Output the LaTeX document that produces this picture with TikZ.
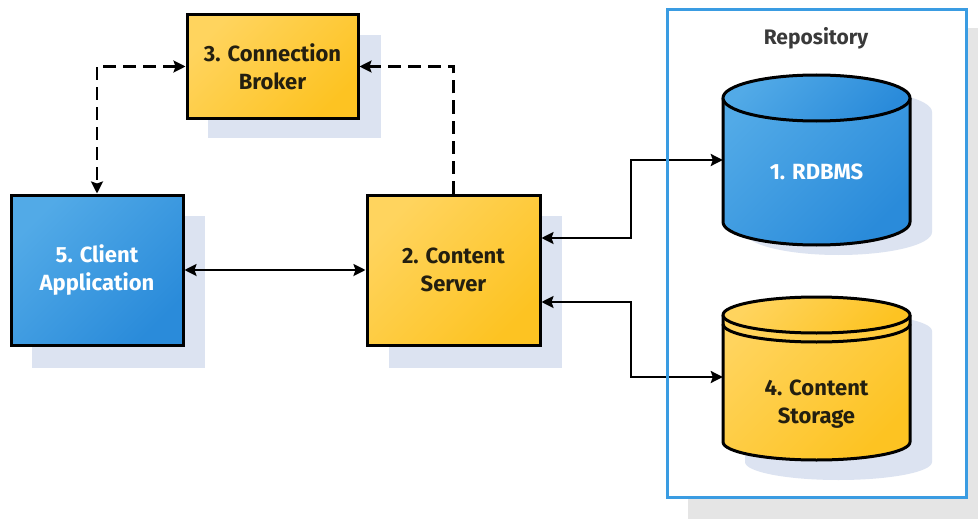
\documentclass[tikz,border=0pt]{standalone}
\usepackage{fontspec}
\setmainfont{Fira Sans}
\usetikzlibrary{arrows.meta,calc}

\definecolor{blueA}{HTML}{52AAE7}
\definecolor{blueB}{HTML}{2A8BDA}
\definecolor{yellowA}{HTML}{FFD45E}
\definecolor{yellowB}{HTML}{FDC322}
\definecolor{shadowc}{HTML}{DCE3F1}
\definecolor{repoblue}{HTML}{3A9CE2}
\definecolor{grayshadow}{HTML}{E5E5E5}
\definecolor{darktext}{HTML}{231F10}
\definecolor{repotext}{HTML}{3A3A3A}

\tikzset{
  x=1pt, y=-1pt,
  labelfont/.style={font=\fontsize{22}{28}\selectfont\bfseries, align=center},
  boxshadow/.style={fill=shadowc, draw=none},
  bluebox/.style={draw=black, line width=3pt, top color=blueA, bottom color=blueB,
    shading angle=45, labelfont, text=white, inner sep=0pt},
  yellowbox/.style={draw=black, line width=3pt, top color=yellowA, bottom color=yellowB,
    shading angle=45, labelfont, text=darktext, inner sep=0pt},
  cylfill blue/.style={top color=blueA, bottom color=blueB, shading angle=45},
  cylfill yellow/.style={top color=yellowA, bottom color=yellowB, shading angle=45},
  cyledge/.style={draw=black, line width=3pt, line join=round},
  anchorbox/.style={draw=none, fill=none, inner sep=0pt, minimum width=187pt},
  link/.style={draw=black, line width=2.3pt,
    {Stealth[length=12pt,width=12pt,inset=2pt]}-{Stealth[length=12pt,width=12pt,inset=2pt]}},
  dashlink/.style={draw=black, line width=2.3pt, dash pattern=on 13pt off 7pt},
  tipend/.style={-{Stealth[length=12pt,width=12pt,inset=2pt]}},
  tipboth/.style={{Stealth[length=12pt,width=12pt,inset=2pt]}-{Stealth[length=12pt,width=12pt,inset=2pt]}},
}

\begin{document}
\begin{tikzpicture}
\useasboundingbox (0,0) rectangle (978,519);

% repository frame with its grey drop shadow
\fill[grayshadow] (688,28) rectangle (980,521);
\node[draw=none, fill=white, minimum width=298pt, minimum height=487pt, inner sep=0pt]
  (repo) at (817,253.5) {};
\node[font=\fontsize{21}{25}\selectfont\bfseries, text=repotext] (repolabel) at (816,38) {Repository};

% shadows behind the boxes
\fill[boxshadow] (32,216) rectangle (205,368);
\fill[boxshadow] (389,216) rectangle (562,368);
\fill[boxshadow] (208,35) rectangle (381,138);

% boxes
\node[bluebox, minimum width=172pt, minimum height=150pt] (client) at (97,270) {5. Client\\Application};
\node[yellowbox, minimum width=173pt, minimum height=150pt] (server) at (453.5,270) {2. Content\\Server};
\node[yellowbox, minimum width=171pt, minimum height=103pt] (broker) at (272.5,66.5) {3. Connection\\Broker};

% RDBMS cylinder
\fill[shadowc] (745,112) -- (745,232) arc[start angle=180, end angle=0, x radius=93.5, y radius=23]
  -- (932,112) arc[start angle=0, end angle=-180, x radius=93.5, y radius=23] -- cycle;
\path[cylfill blue] (723,98) -- (723,222) arc[start angle=180, end angle=0, x radius=93.5, y radius=23]
  -- (910,98) arc[start angle=0, end angle=-180, x radius=93.5, y radius=23] -- cycle;
\draw[cyledge] (723,98) -- (723,222) arc[start angle=180, end angle=0, x radius=93.5, y radius=23]
  -- (910,98);
\path[cylfill blue] (816.5,98) ellipse[x radius=93.5, y radius=23];
\draw[cyledge] (816.5,98) ellipse[x radius=93.5, y radius=23];
\node[anchorbox, minimum height=124pt] (rdbms) at (816.5,160) {};
\node[labelfont, text=white] (rdbmslabel) at (816.5,172) {1. RDBMS};

% content storage cylinder
\fill[shadowc] (745,331) -- (745,462) arc[start angle=180, end angle=0, x radius=93.5, y radius=18]
  -- (932,331) arc[start angle=0, end angle=-180, x radius=93.5, y radius=18] -- cycle;
\path[cylfill yellow] (723,315) -- (723,442) arc[start angle=180, end angle=0, x radius=93.5, y radius=18]
  -- (910,315) arc[start angle=0, end angle=-180, x radius=93.5, y radius=18] -- cycle;
\draw[cyledge] (723,315) -- (723,442) arc[start angle=180, end angle=0, x radius=93.5, y radius=18]
  -- (910,315);
\path[cylfill yellow] (816.5,315) ellipse[x radius=93.5, y radius=18];
\draw[cyledge] (816.5,315) ellipse[x radius=93.5, y radius=18];
\draw[cyledge] (723,324) arc[start angle=180, end angle=0, x radius=93.5, y radius=18];
\node[anchorbox, minimum height=127pt] (storage) at (816.5,377) {};
\node[labelfont, text=darktext] (storagelabel) at (816.5,404) {4. Content\\Storage};

% connectors
\draw[dashlink, tipboth] (broker.west) -| (client.north);
\draw[dashlink, tipend] (server.north) |- (broker.east);
\draw[link] (client.east) -- (server.west);
\coordinate (srvtop) at ([yshift=32pt]server.east);
\coordinate (srvbot) at ([yshift=-32pt]server.east);
\draw[link] (srvtop) -- (631,238) |- (rdbms.west);
\draw[link] (srvbot) -- (631,302) |- (storage.west);

% repository border on top of the crossing connectors
\draw[repoblue, line width=3pt] (repo.north west) rectangle (repo.south east);
\end{tikzpicture}
\end{document}
